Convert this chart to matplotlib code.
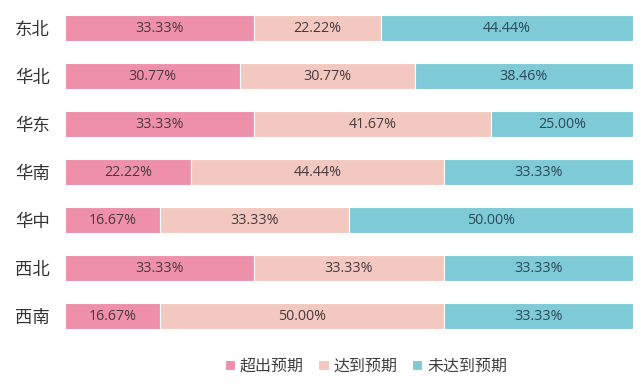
import numpy as np
import matplotlib
matplotlib.use("Agg")
from matplotlib import pyplot as plt

plt.rcParams['font.family'] = ['Noto Sans CJK SC', 'DejaVu Sans']

# data
regions = ["东北", "华北", "华东", "华南", "华中", "西北", "西南"]
series = ["超出预期", "达到预期", "未达到预期"]
above = [33.33, 30.77, 33.33, 22.22, 16.67, 33.33, 16.67]
meet = [22.22, 30.77, 41.67, 44.44, 33.33, 33.33, 50.00]
below = [44.44, 38.46, 25.00, 33.33, 50.00, 33.33, 33.33]

colors = ["#EE90A9", "#F2C8C0", "#7ECAD7"]
text_colors = ["#4a3a3e", "#4a3a3e", "#2c4a55"]

fig = plt.figure(figsize=(6.44, 3.89), dpi=100)
ax = fig.add_axes([65/644, 1-340/389, (633-65)/644, 336/389])

y = np.arange(len(regions))
left = np.zeros(len(regions))
for vals, col, tc, name in zip([above, meet, below], colors, text_colors, series):
    vals = np.array(vals)
    ax.barh(y, vals, left=left, height=0.55, color=col, label=name,
            edgecolor="white", linewidth=0.8)
    for yi, l, v in zip(y, left, vals):
        ax.text(l + v/2, yi, f"{v:.2f}%", ha="center", va="center",
                fontsize=10.3, color=tc, family="Open Sans")
    left = left + vals

ax.set_xlim(0, 100)
ax.set_ylim(len(regions) - 0.5, -0.5)
ax.set_yticks(y)
ax.set_yticklabels(regions, fontsize=12.5, color="#333333")
ax.tick_params(axis="y", length=0, pad=11)
ax.set_xticks([])
for s in ax.spines.values():
    s.set_visible(False)

fig.legend(loc="center", bbox_to_anchor=(366/644, 1-366/389), ncol=3,
           frameon=False, fontsize=11.5, handlelength=0.65, handleheight=0.65,
           handletextpad=0.3, columnspacing=0.9, labelcolor="#404040")

fig.savefig("out.png", dpi=100, facecolor="white")
